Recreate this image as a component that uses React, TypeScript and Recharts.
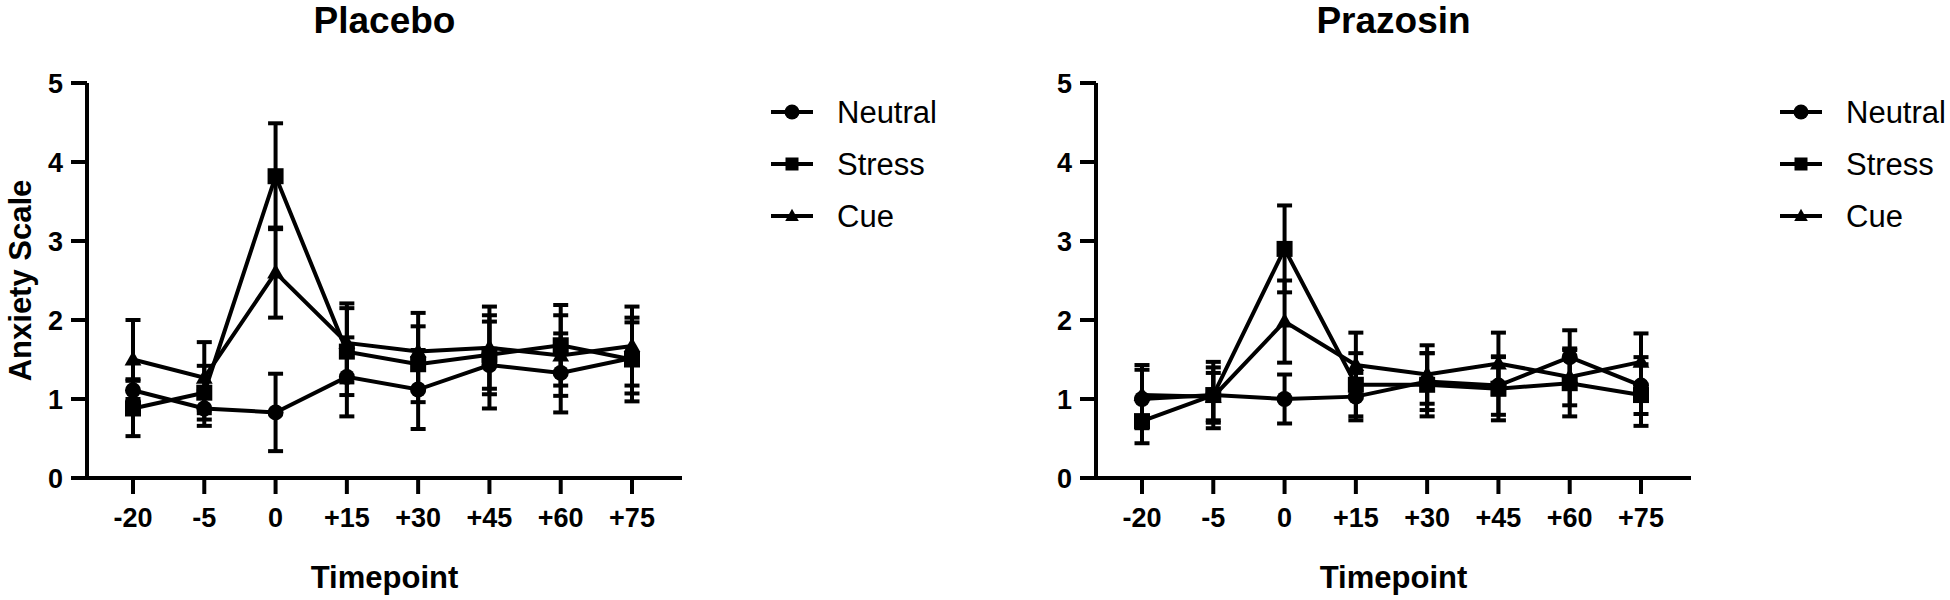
import { LineChart, Line, XAxis, YAxis, ErrorBar } from "recharts";

const timepoints = ["-20", "-5", "0", "+15", "+30", "+45", "+60", "+75"];
const yTicks = [0, 1, 2, 3, 4, 5];

// Placebo
const placeboNeutral = [1.11, 0.88, 0.83, 1.28, 1.12, 1.43, 1.33, 1.52];
const placeboNeutralErr = [0.14, 0.22, 0.49, 0.5, 0.5, 0.55, 0.5, 0.45];
const placeboStress = [0.88, 1.08, 3.82, 1.6, 1.44, 1.56, 1.68, 1.5];
const placeboStressErr = [0.35, 0.34, 0.67, 0.55, 0.48, 0.5, 0.51, 0.53];
const placeboCue = [1.5, 1.27, 2.6, 1.71, 1.6, 1.65, 1.55, 1.67];
const placeboCueErr = [0.5, 0.45, 0.57, 0.5, 0.49, 0.52, 0.51, 0.5];

// Prazosin
const prazosinNeutral = [1.0, 1.05, 1.0, 1.03, 1.22, 1.17, 1.53, 1.17];
const prazosinNeutralErr = [0.37, 0.42, 0.31, 0.3, 0.36, 0.37, 0.34, 0.36];
const prazosinStress = [0.72, 1.05, 2.9, 1.18, 1.18, 1.13, 1.2, 1.05];
const prazosinStressErr = [0.28, 0.35, 0.55, 0.4, 0.4, 0.4, 0.42, 0.39];
const prazosinCue = [1.05, 1.03, 1.98, 1.43, 1.31, 1.45, 1.28, 1.47];
const prazosinCueErr = [0.38, 0.3, 0.52, 0.41, 0.37, 0.39, 0.36, 0.36];

const FONT = "'Liberation Sans', Arial, Helvetica, sans-serif";

type Shape = "circle" | "square" | "triangle";

const seriesDefs: { key: string; name: string; shape: Shape }[] = [
  { key: "neutral", name: "Neutral", shape: "circle" },
  { key: "stress", name: "Stress", shape: "square" },
  { key: "cue", name: "Cue", shape: "triangle" },
];

const buildRows = (
  n: number[], ne: number[], s: number[], se: number[], c: number[], ce: number[]
) =>
  timepoints.map((t, i) => ({
    time: t,
    neutral: n[i], neutralErr: ne[i],
    stress: s[i], stressErr: se[i],
    cue: c[i], cueErr: ce[i],
  }));

const Marker = ({ cx, cy, shape, size }: { cx?: number; cy?: number; shape: Shape; size: number }) => {
  if (cx == null || cy == null) return null;
  const h = size / 2;
  if (shape === "circle") return <circle cx={cx} cy={cy} r={h} fill="#000" />;
  if (shape === "square")
    return <rect x={cx - h} y={cy - h} width={size} height={size} fill="#000" />;
  return (
    <polygon
      points={`${cx},${cy - h * 1.1} ${cx - h * 1.05},${cy + h * 0.75} ${cx + h * 1.05},${cy + h * 0.75}`}
      fill="#000"
    />
  );
};

const PLOT_LEFT = 87;
const PLOT_WIDTH = 595;

const Panel = ({ title, rows, left, yLabel }: { title: string; rows: any[]; left: number; yLabel?: string }) => {
  return (
    <div style={{ position: "absolute", left, top: 0, width: 941, height: 600 }}>
      <div
        style={{
          position: "absolute", left: PLOT_LEFT, top: 2, width: PLOT_WIDTH,
          textAlign: "center", fontFamily: FONT, fontWeight: "bold",
          fontSize: 37, lineHeight: "37px", color: "#000",
        }}
      >
        {title}
      </div>
      <LineChart
        width={941}
        height={600}
        data={rows}
        margin={{ top: 83, right: 259, bottom: 0, left: 0 }}
      >
        <XAxis
          dataKey="time"
          height={122}
          padding={{ left: 46, right: 50 }}
          axisLine={{ stroke: "#000", strokeWidth: 4 }}
          tickLine={{ stroke: "#000", strokeWidth: 4 }}
          tickSize={16}
          tickMargin={14}
          tick={{ fill: "#000", fontSize: 27, fontWeight: "bold", fontFamily: FONT }}
          interval={0}
          label={{
            value: "Timepoint", position: "insideBottom", offset: 12,
            style: { fill: "#000", fontSize: 31, fontWeight: "bold", fontFamily: FONT },
          }}
        />
        <YAxis
          width={PLOT_LEFT}
          domain={[0, 5]}
          ticks={yTicks}
          axisLine={{ stroke: "#000", strokeWidth: 4 }}
          tickLine={{ stroke: "#000", strokeWidth: 4 }}
          tickSize={16}
          tickMargin={8}
          tick={{ fill: "#000", fontSize: 27, fontWeight: "bold", fontFamily: FONT }}
          label={
            yLabel
              ? {
                  value: yLabel, angle: -90, position: "insideLeft", offset: 20,
                  style: { fill: "#000", fontSize: 31, fontWeight: "bold", fontFamily: FONT, textAnchor: "middle" },
                }
              : undefined
          }
        />
        {seriesDefs.map((s) => (
          <Line
            key={s.key}
            dataKey={s.key}
            name={s.name}
            type="linear"
            stroke="#000"
            strokeWidth={4}
            isAnimationActive={false}
            activeDot={false}
            dot={(p: any) => (
              <Marker key={`${s.key}-${p.index}`} cx={p.cx} cy={p.cy} shape={s.shape} size={16} />
            )}
          >
            <ErrorBar dataKey={`${s.key}Err`} width={7.5} strokeWidth={4} stroke="#000" direction="y" />
          </Line>
        ))}
      </LineChart>
      <div style={{ position: "absolute", left: 771, top: 86, fontFamily: FONT, fontSize: 31, color: "#000" }}>
        {seriesDefs.map((s) => (
          <div key={s.key} style={{ display: "flex", alignItems: "center", height: 52 }}>
            <svg width={66} height={30} style={{ display: "block" }}>
              <line x1={0} x2={42} y1={15} y2={15} stroke="#000" strokeWidth={4} />
              <Marker cx={21} cy={15} shape={s.shape} size={s.shape === "circle" ? 15 : 13} />
            </svg>
            <span style={{ lineHeight: "31px" }}>{s.name}</span>
          </div>
        ))}
      </div>
    </div>
  );
};

const placeboRows = buildRows(placeboNeutral, placeboNeutralErr, placeboStress, placeboStressErr, placeboCue, placeboCueErr);
const prazosinRows = buildRows(prazosinNeutral, prazosinNeutralErr, prazosinStress, prazosinStressErr, prazosinCue, prazosinCueErr);

export default function App() {
  return (
    <div
      style={{
        position: "absolute", left: 0, top: 0, width: 1950, height: 600,
        overflow: "hidden", background: "#fff",
      }}
    >
      <Panel title="Placebo" rows={placeboRows} left={0} yLabel="Anxiety Scale" />
      <Panel title="Prazosin" rows={prazosinRows} left={1009} />
    </div>
  );
}
